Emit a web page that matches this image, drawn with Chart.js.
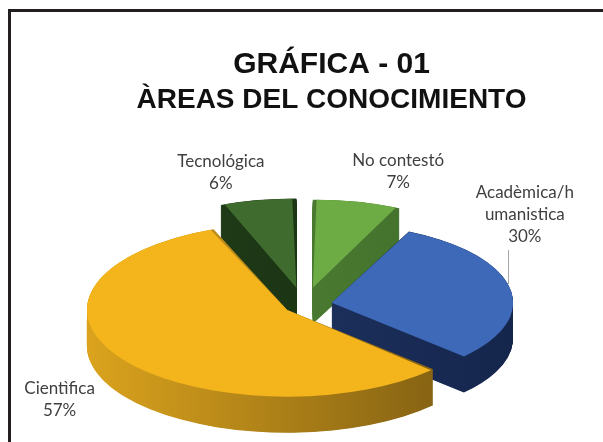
<!DOCTYPE html>
<html>
<head>
<meta charset="utf-8">
<script src="https://cdn.jsdelivr.net/npm/chart.js@4.4.0/dist/chart.umd.min.js"></script>
<style>
    html, body { margin: 0; padding: 0; background: #fff; }
    #wrap { position: relative; width: 603px; height: 442px; overflow: hidden; }
    #frame { position: absolute; left: 8px; top: 9px; right: -10px; bottom: -10px;
             border-left: 3px solid #231f20; border-top: 3px solid #231f20; }
    canvas { position: absolute; left: 0; top: 0; }
</style>
</head>
<body>
<div id="wrap">
    <div id="frame"></div>
    <canvas id="areasChart" width="603" height="442"></canvas>
</div>
<script>
// datos de la gráfica (sentido horario desde arriba)
const categories = ['No contestó', ['Acadèmica/h', 'umanistica'], 'Cientìfica', 'Tecnológica'];
const percentages = [7, 30, 57, 6];

// estilos
const topColors = ['#6dab45', '#3d69b8', '#f3b41c', '#3f6b2e'];
const sideColors = [['#56893a', '#3d6a28'], ['#22386a', '#15264c'], ['#dba31d', '#7a5a12'], ['#24421b', '#14290f']];
const explode = [98, 68, 49, 98];
const labelShift = [[41, -30], [15, -73], [-62, 41], [-37, -28]];

function sliceGeom(el) {
    const off = (el.options.offset || 0) / 4;
    const mid = (el.startAngle + el.endAngle) / 2;
    const fix = 1 - Math.sin(Math.min(Math.PI, el.circumference));
    return {
        x: el.x + Math.cos(mid) * off,
        y: el.y + Math.sin(mid) * off,
        r: el.outerRadius + off * fix,
        mid: mid,
        start: el.startAngle,
        end: el.endAngle
    };
}

const pie3d = {
    id: 'pie3d',
    geometry(chart, opts) {
        const meta = chart.getDatasetMeta(0);
        const el0 = meta.data[0];
        return {
            meta,
            cx: el0.x,
            cy: el0.y,
            sx: opts.rx / el0.outerRadius,
            sy: opts.ry / el0.outerRadius
        };
    },
    beforeDatasetsDraw(chart, args, opts) {
        const ctx = chart.ctx;
        const g = this.geometry(chart, opts);
        ctx.save();
        ctx.translate(opts.x, opts.y);
        ctx.scale(g.sx, g.sy);
        ctx.translate(-g.cx, -g.cy);

        // caras laterales, de atrás hacia adelante
        const depth = opts.depth / g.sy;
        const step = 0.5 / g.sy;
        const order = g.meta.data.map((el, i) => ({ el, i, s: sliceGeom(el) }))
            .sort((a, b) => a.s.y - b.s.y);
        order.forEach(({ i, s }) => {
            const grad = ctx.createLinearGradient(s.x - s.r, 0, s.x + s.r, 0);
            grad.addColorStop(0, opts.sides[i][0]);
            grad.addColorStop(1, opts.sides[i][1]);
            ctx.fillStyle = grad;
            for (let d = depth; d > 0; d -= step) {
                ctx.beginPath();
                ctx.moveTo(s.x, s.y + d);
                ctx.arc(s.x, s.y + d, s.r, s.start, s.end);
                ctx.closePath();
                ctx.fill();
            }
        });
    },
    afterDatasetsDraw(chart, args, opts) {
        const ctx = chart.ctx;
        ctx.restore();
        const g = this.geometry(chart, opts);
        const map = (x, y) => [opts.x + (x - g.cx) * g.sx, opts.y + (y - g.cy) * g.sy];
        const values = chart.data.datasets[0].data;

        ctx.save();
        ctx.font = opts.font;
        ctx.fillStyle = opts.color;
        ctx.textAlign = 'center';
        ctx.textBaseline = 'middle';
        g.meta.data.forEach((el, i) => {
            const s = sliceGeom(el);
            const [px, py] = map(s.x + Math.cos(s.mid) * s.r, s.y + Math.sin(s.mid) * s.r);
            const lx = px + opts.shift[i][0];
            const ly = py + opts.shift[i][1];
            const lines = [].concat(chart.data.labels[i], values[i] + '%');
            const top = ly - (lines.length - 1) * opts.lineHeight / 2;
            lines.forEach((t, k) => ctx.fillText(t, lx, top + k * opts.lineHeight));

            if (opts.leader && opts.leader.index === i) {
                const x = lx + opts.leader.dx;
                const yStart = top + (lines.length - 1) * opts.lineHeight + opts.lineHeight / 2 + 2;
                const ex = (x - opts.x) / g.sx + g.cx - s.x;
                const ey = s.y - Math.sqrt(Math.max(s.r * s.r - ex * ex, 0));
                const yEnd = map(0, ey)[1];
                ctx.strokeStyle = '#a6a6a6';
                ctx.lineWidth = 1;
                ctx.beginPath();
                ctx.moveTo(Math.round(x) + 0.5, yStart);
                ctx.lineTo(Math.round(x) + 0.5, yEnd);
                ctx.stroke();
            }
        });
        ctx.restore();
    }
};

const titleFont = "'Liberation Sans', Arial, sans-serif";

new Chart(document.getElementById('areasChart'), {
    type: 'pie',
    data: {
        labels: categories,
        datasets: [{
            data: percentages,
            backgroundColor: topColors,
            borderWidth: 0,
            offset: explode,
            hoverOffset: 0,
            clip: false
        }]
    },
    options: {
        responsive: false,
        animation: false,
        events: [],
        layout: { padding: { top: 37, left: 60, right: 0, bottom: 0 } },
        plugins: {
            legend: { display: false },
            tooltip: { enabled: false },
            title: {
                display: true,
                text: 'GRÁFICA - 01',
                color: '#111',
                font: { family: titleFont, size: 30, weight: 'bold' },
                padding: { top: 10, bottom: 0 }
            },
            subtitle: {
                display: true,
                text: 'ÀREAS DEL CONOCIMIENTO',
                color: '#111',
                font: { family: titleFont, size: 28, weight: 'bold' },
                padding: { top: 0, bottom: 10 }
            },
            pie3d: {
                x: 304,
                y: 305,
                rx: 180,
                ry: 78,
                depth: 36,
                sides: sideColors,
                shift: labelShift,
                font: "17px Lato, 'Noto Sans', sans-serif",
                color: '#3f3f3f',
                lineHeight: 22,
                leader: { index: 1, dx: -17 }
            }
        }
    },
    plugins: [pie3d]
});
</script>
</body>
</html>
